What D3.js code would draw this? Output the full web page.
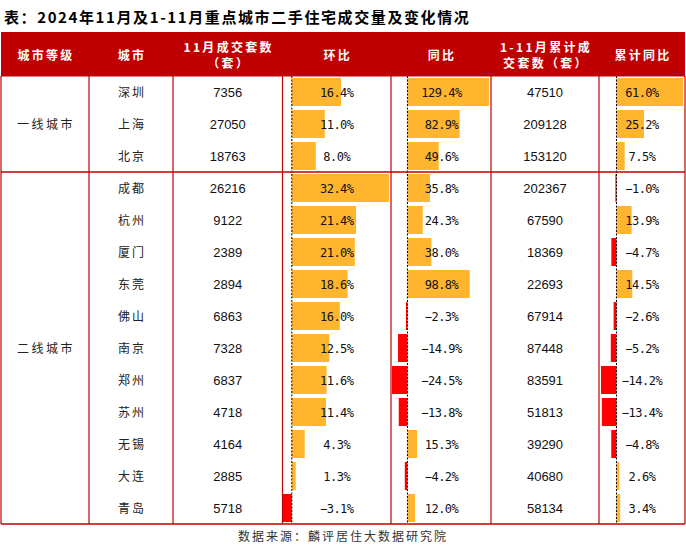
<!DOCTYPE html>
<html><head><meta charset="utf-8">
<script src="https://cdn.jsdelivr.net/npm/d3@7"></script>
<style>
html,body{margin:0;padding:0;background:#fff;}
svg{display:block;}
</style></head>
<body>
<script>
const title = "表：2024年11月及1-11月重点城市二手住宅成交量及变化情况";
const source = "数据来源：麟评居住大数据研究院";
const headers = [["城市等级"],["城市"],["11月成交套数","（套）"],["环比"],["同比"],["1-11月累计成","交套数（套）"],["累计同比"]];
const tiers = ["一线城市","二线城市"];
const tierCounts = [3, 11];
const cities = ["深圳","上海","北京","成都","杭州","厦门","东莞","佛山","南京","郑州","苏州","无锡","大连","青岛"];
const novDeals = [7356,27050,18763,26216,9122,2389,2894,6863,7328,6837,4718,4164,2885,5718];
const momPct = [16.4,11.0,8.0,32.4,21.4,21.0,18.6,16.0,12.5,11.6,11.4,4.3,1.3,-3.1];
const yoyPct = [129.4,82.9,49.6,35.8,24.3,38.0,98.8,-2.3,-14.9,-24.5,-13.8,15.3,-4.2,12.0];
const cumDeals = [47510,209128,153120,202367,67590,18369,22693,67914,87448,83591,51813,39290,40680,58134];
const cumYoyPct = [61.0,25.2,7.5,-1.0,13.9,-4.7,14.5,-2.6,-5.2,-14.2,-13.4,-4.8,2.6,3.4];

const W = 686, H = 549;
const RED = "#C00000", GOLD = "#FFB62E", NEG = "#FF0000";
const colX = [1, 89, 173, 282.5, 391, 491, 599, 685];
const headTop = 32, headBot = 76, tableBot = 524;

const svg = d3.select("body").append("svg").attr("width", W).attr("height", H);

// title
svg.append("text").attr("x", 4).attr("y", 23)
  .attr("font-family", "'Noto Sans CJK SC'").attr("font-weight", 700)
  .attr("font-size", 15).attr("letter-spacing", 1.6).attr("fill", "#000")
  .text(title);

// header
svg.append("rect").attr("x", colX[0]).attr("y", headTop).attr("width", colX[7]-colX[0]).attr("height", headBot-headTop).attr("fill", RED);
headers.forEach((h, i) => {
  const cx = (colX[i] + colX[i+1]) / 2;
  const t = svg.append("text").attr("text-anchor", "middle")
    .attr("font-family", "'Noto Sans CJK SC'").attr("font-weight", 700)
    .attr("font-size", 12).attr("letter-spacing", 2.3).attr("fill", "#fff");
  if (h.length === 1) {
    t.append("tspan").attr("x", cx + 1).attr("y", 60).text(h[0]);
  } else {
    t.append("tspan").attr("x", cx + 1).attr("y", 52).text(h[0]);
    t.append("tspan").attr("x", cx + 1).attr("y", 68).text(h[1]);
  }
});

// rows
const y = d3.scaleBand().domain(cities).range([headBot, tableBot]).padding(0);
const bh = y.bandwidth();

function bars(vals, x0, x1, fmtCx) {
  const sx = d3.scaleLinear().domain(d3.extent(vals)).range([x0, x1]);
  const g = svg.append("g");
  g.selectAll("rect").data(cities).join("rect")
    .attr("x", (c, i) => Math.min(sx(0), sx(vals[i])))
    .attr("width", (c, i) => Math.abs(sx(vals[i]) - sx(0)))
    .attr("y", c => y(c) + 2).attr("height", bh - 4)
    .attr("fill", (c, i) => vals[i] >= 0 ? GOLD : NEG);
  g.append("line").attr("x1", sx(0)).attr("x2", sx(0)).attr("y1", headBot).attr("y2", tableBot)
    .attr("stroke", "#000").attr("stroke-width", 1).attr("stroke-dasharray", "2,1.5");
  g.selectAll("text").data(cities).join("text")
    .attr("x", fmtCx).attr("y", c => y(c) + bh/2 + 4.5)
    .attr("text-anchor", "middle")
    .attr("font-family", "'DejaVu Sans Mono'").attr("font-size", 12).attr("letter-spacing", -0.5)
    .attr("fill", "#111")
    .text((c, i) => d3.format(".1f")(vals[i]) .replace("-", "-") + "%");
}
bars(momPct, 282.5, 389, (colX[3]+colX[4])/2);
bars(yoyPct, 392, 489, (colX[4]+colX[5])/2 + 0.5);
bars(cumYoyPct, 601, 683, (colX[6]+colX[7])/2);

// city names
svg.append("g").selectAll("text").data(cities).join("text")
  .attr("x", (colX[1]+colX[2])/2 + 1).attr("y", c => y(c) + bh/2 + 4.5)
  .attr("text-anchor", "middle").attr("font-family", "'Noto Sans CJK SC'")
  .attr("font-size", 12).attr("letter-spacing", 2).attr("fill", "#222")
  .text(c => c);

// numbers
function nums(vals, ci) {
  svg.append("g").selectAll("text").data(cities).join("text")
    .attr("x", (colX[ci]+colX[ci+1])/2).attr("y", c => y(c) + bh/2 + 5)
    .attr("text-anchor", "middle").attr("font-family", "'Liberation Sans'")
    .attr("font-size", 13).attr("fill", "#111")
    .text((c, i) => vals[i]);
}
nums(novDeals, 2);
nums(cumDeals, 5);

// tiers
let start = 0;
const tierBounds = [];
tierCounts.forEach((n, k) => {
  const top = y(cities[start]);
  const bot = y(cities[start + n - 1]) + bh;
  tierBounds.push(bot);
  svg.append("text").attr("x", (colX[0]+colX[1])/2 + 1).attr("y", (top+bot)/2 + 4.5)
    .attr("text-anchor", "middle").attr("font-family", "'Noto Sans CJK SC'")
    .attr("font-size", 12).attr("letter-spacing", 2.5).attr("fill", "#222")
    .text(tiers[k]);
  start += n;
});

// grid lines
const grid = svg.append("g").attr("stroke", RED).attr("fill", "none");
colX.forEach(x => grid.append("line").attr("x1", x).attr("x2", x).attr("y1", headBot).attr("y2", tableBot).attr("stroke-width", 1.2));
grid.append("line").attr("x1", colX[0]).attr("x2", colX[7]).attr("y1", tierBounds[0]).attr("y2", tierBounds[0]).attr("stroke-width", 1.5);
grid.append("line").attr("x1", colX[0]).attr("x2", colX[7]).attr("y1", tableBot).attr("y2", tableBot).attr("stroke-width", 1.5);
grid.append("line").attr("x1", colX[0]).attr("x2", colX[7]).attr("y1", headBot).attr("y2", headBot).attr("stroke-width", 1);

// source
svg.append("text").attr("x", W/2).attr("y", 541).attr("text-anchor", "middle")
  .attr("font-family", "'Noto Sans CJK SC'").attr("font-size", 12).attr("letter-spacing", 2)
  .attr("fill", "#333").text(source);
</script>
</body></html>
